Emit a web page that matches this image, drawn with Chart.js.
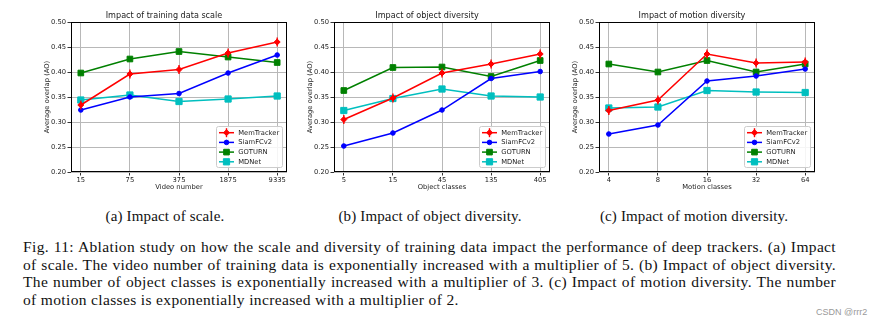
<!DOCTYPE html>
<html>
<head>
<meta charset="utf-8">
<script src="https://cdn.jsdelivr.net/npm/chart.js@4/dist/chart.umd.min.js"></script>
<style>
  body { margin: 0; background: #fff; }
  #page { position: relative; width: 883px; height: 326px; overflow: hidden; background: #fff; }
  canvas { position: absolute; top: 0; }
  .sub { position: absolute; width: 300px; text-align: center; font-family: "Liberation Serif", serif;
         font-size: 15px; letter-spacing: 0.15px; line-height: 18px; color: #111; white-space: nowrap; }
  .cap { position: absolute; left: 23px; width: 813px; font-family: "Liberation Serif", serif; font-size: 15.5px;
         letter-spacing: 0.35px; line-height: 17.6px; height: 17.6px; color: #111; white-space: nowrap; }
  .just { text-align: justify; text-align-last: justify; }
  #mark { position: absolute; left: 816px; top: 307px; font-family: "Liberation Sans", sans-serif; font-size: 9px; color: #999; }
</style>
</head>
<body>
<div id="page">
  <canvas id="c1" width="276" height="196" style="left:41px"></canvas>
  <canvas id="c2" width="276" height="196" style="left:304px"></canvas>
  <canvas id="c3" width="276" height="196" style="left:569px"></canvas>

  <div class="sub" style="left:15px; top:207px">(a) Impact of scale.</div>
  <div class="sub" style="left:280px; top:207px">(b) Impact of object diversity.</div>
  <div class="sub" style="left:544px; top:207px">(c) Impact of motion diversity.</div>

  <div class="cap just" style="top:238px">Fig. 11: Ablation study on how the scale and diversity of training data impact the performance of deep trackers. (a) Impact</div>
  <div class="cap just" style="top:255.5px">of scale. The video number of training data is exponentially increased with a multiplier of 5. (b) Impact of object diversity.</div>
  <div class="cap just" style="top:273px">The number of object classes is exponentially increased with a multiplier of 3. (c) Impact of motion diversity. The number</div>
  <div class="cap" style="top:291px">of motion classes is exponentially increased with a multiplier of 2.</div>
  <div id="mark">CSDN @rrr2</div>
</div>

<script>
Chart.defaults.font.family = 'DejaVu Sans';
Chart.defaults.font.size = 6.75;
Chart.defaults.color = '#222';

// x tick labels
const videoNumbers = ['15', '75', '375', '1875', '9335'];
const objectClasses = ['5', '15', '45', '135', '405'];
const motionClasses = ['4', '8', '16', '32', '64'];

const trackers = ['MemTracker', 'SiamFCv2', 'GOTURN', 'MDNet'];

// (a) training data scale
const scaleMemTracker = [0.334, 0.396, 0.405, 0.438, 0.460];
const scaleSiamFCv2   = [0.324, 0.350, 0.357, 0.398, 0.434];
const scaleGOTURN     = [0.398, 0.426, 0.441, 0.430, 0.419];
const scaleMDNet      = [0.344, 0.354, 0.341, 0.346, 0.352];

// (b) object diversity
const objMemTracker = [0.305, 0.348, 0.398, 0.416, 0.436];
const objSiamFCv2   = [0.252, 0.278, 0.324, 0.387, 0.401];
const objGOTURN     = [0.363, 0.409, 0.410, 0.391, 0.423];
const objMDNet      = [0.323, 0.347, 0.366, 0.352, 0.350];

// (c) motion diversity
const motionMemTracker = [0.323, 0.344, 0.436, 0.418, 0.420];
const motionSiamFCv2   = [0.276, 0.294, 0.382, 0.392, 0.406];
const motionGOTURN     = [0.416, 0.400, 0.423, 0.400, 0.416];
const motionMDNet      = [0.328, 0.330, 0.363, 0.360, 0.359];

const styles = [
  { color: '#ff0000', pointStyle: 'rectRot', pointRadius: 3, errorBar: true },
  { color: '#0000ff', pointStyle: 'circle', pointRadius: 2.3 },
  { color: '#008000', pointStyle: 'rect', pointRadius: 4 },
  { color: '#00bfbf', pointStyle: 'rect', pointRadius: 4.4 }
];

// black box round the plot, like matplotlib spines
const frame = {
  id: 'frame',
  afterDraw(chart) {
    const a = chart.chartArea, ctx = chart.ctx;
    ctx.save();
    ctx.strokeStyle = '#000';
    ctx.lineWidth = 1;
    ctx.strokeRect(Math.round(a.left) + 0.5, Math.round(a.top) + 0.5,
                   Math.round(a.right - a.left) - 1, Math.round(a.bottom - a.top) - 1);
    ctx.restore();
  }
};

// small vertical bars through MemTracker markers
const errBars = {
  id: 'errBars',
  afterDatasetsDraw(chart) {
    const ctx = chart.ctx;
    chart.data.datasets.forEach((d, i) => {
      if (!d.errorBar) return;
      ctx.save();
      ctx.strokeStyle = d.borderColor;
      ctx.lineWidth = 1.4;
      chart.getDatasetMeta(i).data.forEach(p => {
        ctx.beginPath();
        ctx.moveTo(p.x, p.y - 4.5);
        ctx.lineTo(p.x, p.y + 4.5);
        ctx.stroke();
      });
      ctx.restore();
    });
  }
};

// legend box inside the plot, lower right
const insideLegend = {
  id: 'insideLegend',
  afterDraw(chart) {
    const ctx = chart.ctx, a = chart.chartArea;
    const w = 66, h = 41, rowH = 9.7;
    const x0 = a.right - 5 - w, y0 = a.bottom - 5 - h;
    ctx.save();
    ctx.fillStyle = 'rgba(255,255,255,0.85)';
    ctx.strokeStyle = '#cccccc';
    ctx.lineWidth = 1;
    ctx.beginPath();
    ctx.roundRect(Math.round(x0) + 0.5, Math.round(y0) + 0.5, w, h, 2);
    ctx.fill();
    ctx.stroke();
    chart.data.datasets.forEach((d, i) => {
      const cy = y0 + 6.7 + i * rowH;
      ctx.strokeStyle = d.borderColor;
      ctx.fillStyle = d.backgroundColor;
      ctx.lineWidth = 1.5;
      ctx.beginPath();
      ctx.moveTo(x0 + 3, cy);
      ctx.lineTo(x0 + 18, cy);
      ctx.stroke();
      ctx.lineWidth = 1;
      Chart.helpers.drawPoint(ctx, { pointStyle: d.pointStyle, radius: d.pointRadius, borderWidth: 1, rotation: 0 }, x0 + 10.5, cy);
      if (d.errorBar) {
        ctx.lineWidth = 1.4;
        ctx.beginPath();
        ctx.moveTo(x0 + 10.5, cy - 4.5);
        ctx.lineTo(x0 + 10.5, cy + 4.5);
        ctx.stroke();
      }
      ctx.fillStyle = '#222';
      ctx.font = '6.75px "DejaVu Sans"';
      ctx.textBaseline = 'middle';
      ctx.fillText(d.label, x0 + 22.3, cy + 0.3);
    });
    ctx.restore();
  }
};

function makeChart(id, title, xTitle, xLabels, series) {
  new Chart(id, {
    type: 'line',
    data: {
      datasets: series.map((vals, i) => ({
        label: trackers[i],
        data: vals.map((v, k) => ({ x: k, y: v })),
        borderColor: styles[i].color,
        backgroundColor: styles[i].color,
        pointStyle: styles[i].pointStyle,
        pointRadius: styles[i].pointRadius,
        pointBorderWidth: 1,
        borderWidth: 1.5,
        errorBar: styles[i].errorBar || false,
        tension: 0
      }))
    },
    options: {
      responsive: false,
      animation: false,
      devicePixelRatio: 1,
      layout: { padding: { left: 0, right: 30, top: 0, bottom: 0 } },
      plugins: {
        legend: { display: false },
        tooltip: { enabled: false },
        title: {
          display: true,
          text: title,
          color: '#222',
          font: { size: 8.1, weight: 'normal' },
          padding: { top: 11, bottom: 1.3 }
        }
      },
      scales: {
        x: {
          type: 'linear',
          min: -0.2,
          max: 4.2,
          afterBuildTicks(axis) { axis.ticks = [0, 1, 2, 3, 4].map(v => ({ value: v })); },
          afterFit(axis) { axis.height = 24; },
          ticks: { padding: 0.5, maxRotation: 0, callback: v => xLabels[v] },
          grid: { color: '#b8b8b8', lineWidth: 1, tickLength: 3.5, tickColor: '#333' },
          border: { display: false },
          title: { display: true, text: xTitle, padding: { top: 0, bottom: 5 } }
        },
        y: {
          min: 0.2,
          max: 0.5,
          afterFit(axis) { axis.width = 30; },
          ticks: { stepSize: 0.05, padding: 1.5, callback: v => v.toFixed(2) },
          grid: { color: '#b8b8b8', lineWidth: 1, tickLength: 3.5, tickColor: '#333' },
          border: { display: false },
          title: { display: true, text: 'Average overlap (AO)', padding: { top: 2, bottom: 0 } }
        }
      }
    },
    plugins: [errBars, frame, insideLegend]
  });
}

makeChart('c1', 'Impact of training data scale', 'Video number', videoNumbers,
  [scaleMemTracker, scaleSiamFCv2, scaleGOTURN, scaleMDNet]);
makeChart('c2', 'Impact of object diversity', 'Object classes', objectClasses,
  [objMemTracker, objSiamFCv2, objGOTURN, objMDNet]);
makeChart('c3', 'Impact of motion diversity', 'Motion classes', motionClasses,
  [motionMemTracker, motionSiamFCv2, motionGOTURN, motionMDNet]);
</script>
</body>
</html>
